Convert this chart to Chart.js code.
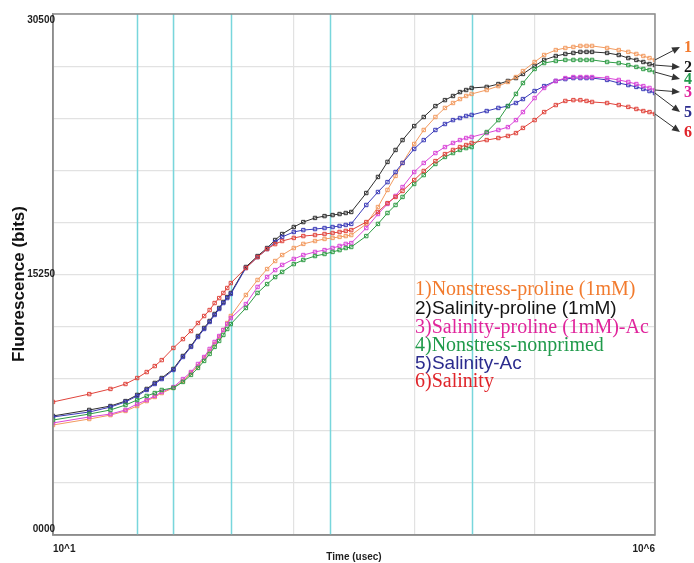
<!DOCTYPE html>
<html>
<head>
<meta charset="utf-8">
<script src="https://cdn.jsdelivr.net/npm/chart.js@4/dist/chart.umd.min.js"></script>
<style>
  html, body { margin: 0; padding: 0; background: #fff; }
  #wrap { position: relative; width: 694px; height: 563px; }
</style>
</head>
<body>
<div id="wrap"><canvas id="chart" width="694" height="563"></canvas></div>
<script>
// --- Data (time in usec, fluorescence in bits) ---
const times = [
    10, 20, 30, 40, 50, 60, 70, 80, 100, 120, 140, 160, 180, 200, 220, 240, 260, 280, 300,
    400, 500, 600, 700, 800, 1000, 1200, 1500, 1800, 2100, 2400, 2700, 3000,
    4000, 5000, 6000, 7000, 8000, 10000, 12000, 15000, 18000, 21000, 24000, 27000, 30000,
    40000, 50000, 60000, 70000, 80000, 100000, 120000, 150000, 180000, 210000, 240000, 270000, 300000,
    400000, 500000, 600000, 700000, 800000, 900000, 1000000
];

const nonstressProline = [
    6440, 6790, 7020, 7260, 7550, 7840, 8080, 8310, 8610, 9020, 9480, 9890, 10360, 10770, 11180, 11590, 12000, 12410, 12820,
    14050, 14930, 15570, 16040, 16390, 16800, 17040, 17210, 17330, 17390, 17450, 17500, 17560,
    18210, 19200, 20200, 21020, 21780, 22890, 23710, 24470, 25000, 25290, 25520, 25700, 25820,
    26050, 26280, 26520, 26810, 27160, 27690, 28100, 28390, 28510, 28570, 28630, 28630, 28630,
    28510, 28390, 28280, 28160, 28040, 27920, 27810
];
const salinityProline = [
    6970, 7320, 7550, 7840, 8200, 8550, 8900, 9190, 9720, 10480, 11060, 11650, 12120, 12530, 12940, 13290, 13640, 13930, 14170,
    15690, 16330, 16800, 17270, 17620, 18030, 18320, 18560, 18670, 18730, 18790, 18850, 18910,
    20020, 20960, 21840, 22540, 23120, 23940, 24470, 25110, 25460, 25700, 25930, 26050, 26170,
    26230, 26400, 26580, 26750, 26990, 27460, 27810, 28040, 28160, 28220, 28280, 28280, 28280,
    28220, 28100, 27920, 27810, 27690, 27570, 27510
];
const salinityProlineAc = [
    6560, 6910, 7080, 7320, 7670, 7900, 8140, 8370, 8660, 9130, 9540, 10010, 10420, 10890, 11300, 11650, 12000, 12350, 12700,
    13520, 14520, 15100, 15510, 15810, 16160, 16390, 16570, 16680, 16800, 16920, 17040, 17090,
    17970, 18790, 19380, 19850, 20370, 21250, 21780, 22360, 22710, 22950, 23120, 23240, 23300,
    23530, 23710, 23880, 24290, 24760, 25580, 26170, 26580, 26750, 26810, 26810, 26810, 26810,
    26750, 26640, 26520, 26400, 26280, 26170, 26050
];
const nonstressNonprimed = [
    6730, 7080, 7320, 7610, 7900, 8140, 8310, 8490, 8610, 8960, 9370, 9780, 10190, 10600, 11010, 11360, 11710, 12060, 12350,
    13290, 14170, 14690, 15100, 15400, 15860, 16100, 16330, 16450, 16570, 16680, 16800, 16860,
    17500, 18210, 18850, 19320, 19790, 20550, 21070, 21720, 22130, 22360, 22540, 22650, 22710,
    23590, 24290, 25110, 25820, 26460, 27280, 27630, 27750, 27810, 27810, 27810, 27810, 27810,
    27690, 27630, 27510, 27400, 27280, 27220, 27100
];
const salinityAc = [
    6910, 7200, 7490, 7790, 8140, 8490, 8840, 9130, 9660, 10420, 11010, 11590, 12060, 12470, 12880, 13230, 13580, 13870, 14110,
    15630, 16270, 16740, 17150, 17450, 17740, 17850, 17910, 17970, 18030, 18090, 18150, 18210,
    19320, 20080, 20660, 21250, 21780, 22600, 23120, 23710, 24060, 24290, 24410, 24530, 24590,
    24820, 25000, 25110, 25290, 25520, 25990, 26280, 26580, 26690, 26750, 26750, 26750, 26750,
    26640, 26460, 26340, 26230, 26110, 25990, 25870
];
const salinity = [
    7790, 8250, 8550, 8840, 9190, 9540, 9890, 10240, 10950, 11470, 11940, 12410, 12820, 13170, 13580, 13870, 14170, 14460, 14750,
    15630, 16270, 16740, 17030, 17210, 17390, 17500, 17560, 17620, 17680, 17740, 17800, 17850,
    18320, 18910, 19430, 19790, 20140, 20780, 21310, 21890, 22300, 22540, 22710, 22830, 22950,
    23120, 23240, 23360, 23530, 23830, 24290, 24760, 25170, 25410, 25460, 25460, 25410, 25350,
    25290, 25170, 25060, 24940, 24820, 24760, 24650
];

const seriesNames = [
    '1)Nonstress-proline (1mM)',
    '2)Salinity-proline (1mM)',
    '3)Salinity-proline (1mM)-Ac',
    '4)Nonstress-nonprimed',
    '5)Salinity-Ac',
    '6)Salinity'
];
const seriesNumbers = ['1', '2', '3', '4', '5', '6'];

const yTickValues = [0, 15250, 30500];
const yTickText = ['0000', '15250', '30500'];
const xTickValues = [10, 1000000];
const xTickText = ['10^1', '10^6'];
const decadeTimes = [10, 100, 1000, 10000, 100000, 1000000];
const markerTimes = [50, 100, 300, 2000, 30000];

// --- Styles ---
const lineColors = ['#f29a5f', '#2e2e2e', '#d944d8', '#2f9c45', '#3a3ab8', '#e0443c'];
const textColors = ['#f27b2e', '#141414', '#e0249c', '#1f9a4a', '#2c2c8e', '#e0242a'];
const serif = '"Liberation Serif", "Times New Roman", serif';
const sans = '"Liberation Sans", Arial, sans-serif';
const legendFonts = [serif, sans, serif, serif, sans, serif];
const legendSizes = [20, 19, 20, 20, 19, 20];
const legendX = 415;
const legendY = [290, 309, 328, 346, 364, 382];
const endLabelX = 684;
const endLabelY = [47, 67, 92, 79, 112, 132];

const seriesData = [nonstressProline, salinityProline, salinityProlineAc, nonstressNonprimed, salinityAc, salinity];

function toPoints(values) {
    return times.map((t, i) => ({ x: t, y: values[i] }));
}

// draw order: bottom ones first, black on top
const drawOrder = [5, 3, 2, 4, 0, 1];
const datasets = drawOrder.map(i => ({
    label: seriesNames[i],
    data: toPoints(seriesData[i]),
    borderColor: lineColors[i],
    borderWidth: 1,
    pointStyle: 'rect',
    pointRadius: 2.4,
    pointBorderWidth: 1,
    pointBorderColor: lineColors[i],
    pointBackgroundColor: 'rgba(255,255,255,0)',
    tension: 0,
    fill: false
}));

function arrow(ctx, x1, y1, x2, y2) {
    const ang = Math.atan2(y2 - y1, x2 - x1);
    ctx.beginPath();
    ctx.moveTo(x1, y1);
    ctx.lineTo(x2 - 5 * Math.cos(ang), y2 - 5 * Math.sin(ang));
    ctx.stroke();
    ctx.beginPath();
    ctx.moveTo(x2, y2);
    ctx.lineTo(x2 - 8 * Math.cos(ang) + 3.5 * Math.sin(ang), y2 - 8 * Math.sin(ang) - 3.5 * Math.cos(ang));
    ctx.lineTo(x2 - 8 * Math.cos(ang) - 3.5 * Math.sin(ang), y2 - 8 * Math.sin(ang) + 3.5 * Math.cos(ang));
    ctx.closePath();
    ctx.fill();
}

const tickFont = { family: sans, size: 10, weight: 'bold' };

const extras = {
    id: 'extras',
    beforeDatasetsDraw(chart) {
        const { ctx, chartArea, scales } = chart;
        ctx.save();
        ctx.strokeStyle = '#78d6dc';
        ctx.lineWidth = 1.5;
        markerTimes.forEach(t => {
            const x = Math.round(scales.x.getPixelForValue(t)) + 0.5;
            ctx.beginPath();
            ctx.moveTo(x, chartArea.top);
            ctx.lineTo(x, chartArea.bottom);
            ctx.stroke();
        });
        ctx.restore();
    },
    afterDraw(chart) {
        const { ctx, chartArea, scales } = chart;
        ctx.save();
        // frame
        ctx.strokeStyle = '#8c8c8c';
        ctx.lineWidth = 1.5;
        ctx.strokeRect(chartArea.left, chartArea.top, chartArea.right - chartArea.left, chartArea.bottom - chartArea.top);

        // y tick labels, nudged inside the frame at both ends
        ctx.font = 'bold 10px ' + sans;
        ctx.fillStyle = '#1e1e1e';
        ctx.textAlign = 'right';
        ctx.textBaseline = 'middle';
        yTickValues.forEach((v, i) => {
            let y = scales.y.getPixelForValue(v);
            if (i === 0) y -= 6;
            if (i === yTickValues.length - 1) y += 6;
            ctx.fillText(yTickText[i], chartArea.left + 2, y);
        });

        // y axis title
        ctx.save();
        ctx.translate(19, 284);
        ctx.rotate(-Math.PI / 2);
        ctx.textAlign = 'center';
        ctx.font = 'bold 17px ' + sans;
        ctx.fillStyle = '#111';
        ctx.fillText('Fluorescence (bits)', 0, 0);
        ctx.restore();

        // legend text block
        ctx.textBaseline = 'middle';
        ctx.textAlign = 'left';
        seriesNames.forEach((name, i) => {
            ctx.font = legendSizes[i] + 'px ' + legendFonts[i];
            ctx.fillStyle = textColors[i];
            ctx.fillText(name, legendX, legendY[i]);
        });

        // end labels with arrows
        const lastT = times[times.length - 1];
        ctx.strokeStyle = '#333';
        ctx.fillStyle = '#333';
        ctx.lineWidth = 1;
        seriesData.forEach((vals, i) => {
            const x1 = scales.x.getPixelForValue(lastT);
            const y1 = scales.y.getPixelForValue(vals[vals.length - 1]);
            arrow(ctx, x1, y1, endLabelX - 4, endLabelY[i]);
        });
        ctx.font = 'bold 16px ' + serif;
        seriesNumbers.forEach((n, i) => {
            ctx.fillStyle = textColors[i];
            ctx.fillText(n, endLabelX, endLabelY[i] + 1);
        });
        ctx.restore();
    }
};

new Chart(document.getElementById('chart'), {
    type: 'line',
    data: { datasets: datasets },
    options: {
        responsive: false,
        animation: false,
        layout: { padding: { top: 14, right: 39, left: 0, bottom: 0 } },
        plugins: { legend: { display: false }, tooltip: { enabled: false } },
        scales: {
            x: {
                type: 'logarithmic',
                min: 10,
                max: 1000000,
                afterBuildTicks: scale => { scale.ticks = decadeTimes.map(v => ({ value: v })); },
                afterFit: scale => { scale.height = 28; },
                grid: { color: '#e2e2e2', lineWidth: 1.2, drawTicks: false },
                border: { color: '#8c8c8c', width: 1.5 },
                ticks: {
                    autoSkip: false,
                    maxRotation: 0,
                    align: 'inner',
                    padding: 8,
                    color: '#1e1e1e',
                    font: tickFont,
                    callback: v => {
                        const i = xTickValues.indexOf(v);
                        return i >= 0 ? xTickText[i] : '';
                    }
                },
                title: {
                    display: true,
                    text: 'Time (usec)',
                    color: '#1e1e1e',
                    font: tickFont,
                    padding: { top: 0, bottom: 0 }
                }
            },
            y: {
                min: 0,
                max: 30500,
                afterFit: scale => { scale.width = 53; },
                grid: { color: '#e2e2e2', lineWidth: 1.2, drawTicks: false },
                border: { color: '#8c8c8c', width: 1.5 },
                ticks: {
                    stepSize: 3050,
                    autoSkip: false,
                    display: false
                }
            }
        }
    },
    plugins: [extras]
});
</script>
</body>
</html>
